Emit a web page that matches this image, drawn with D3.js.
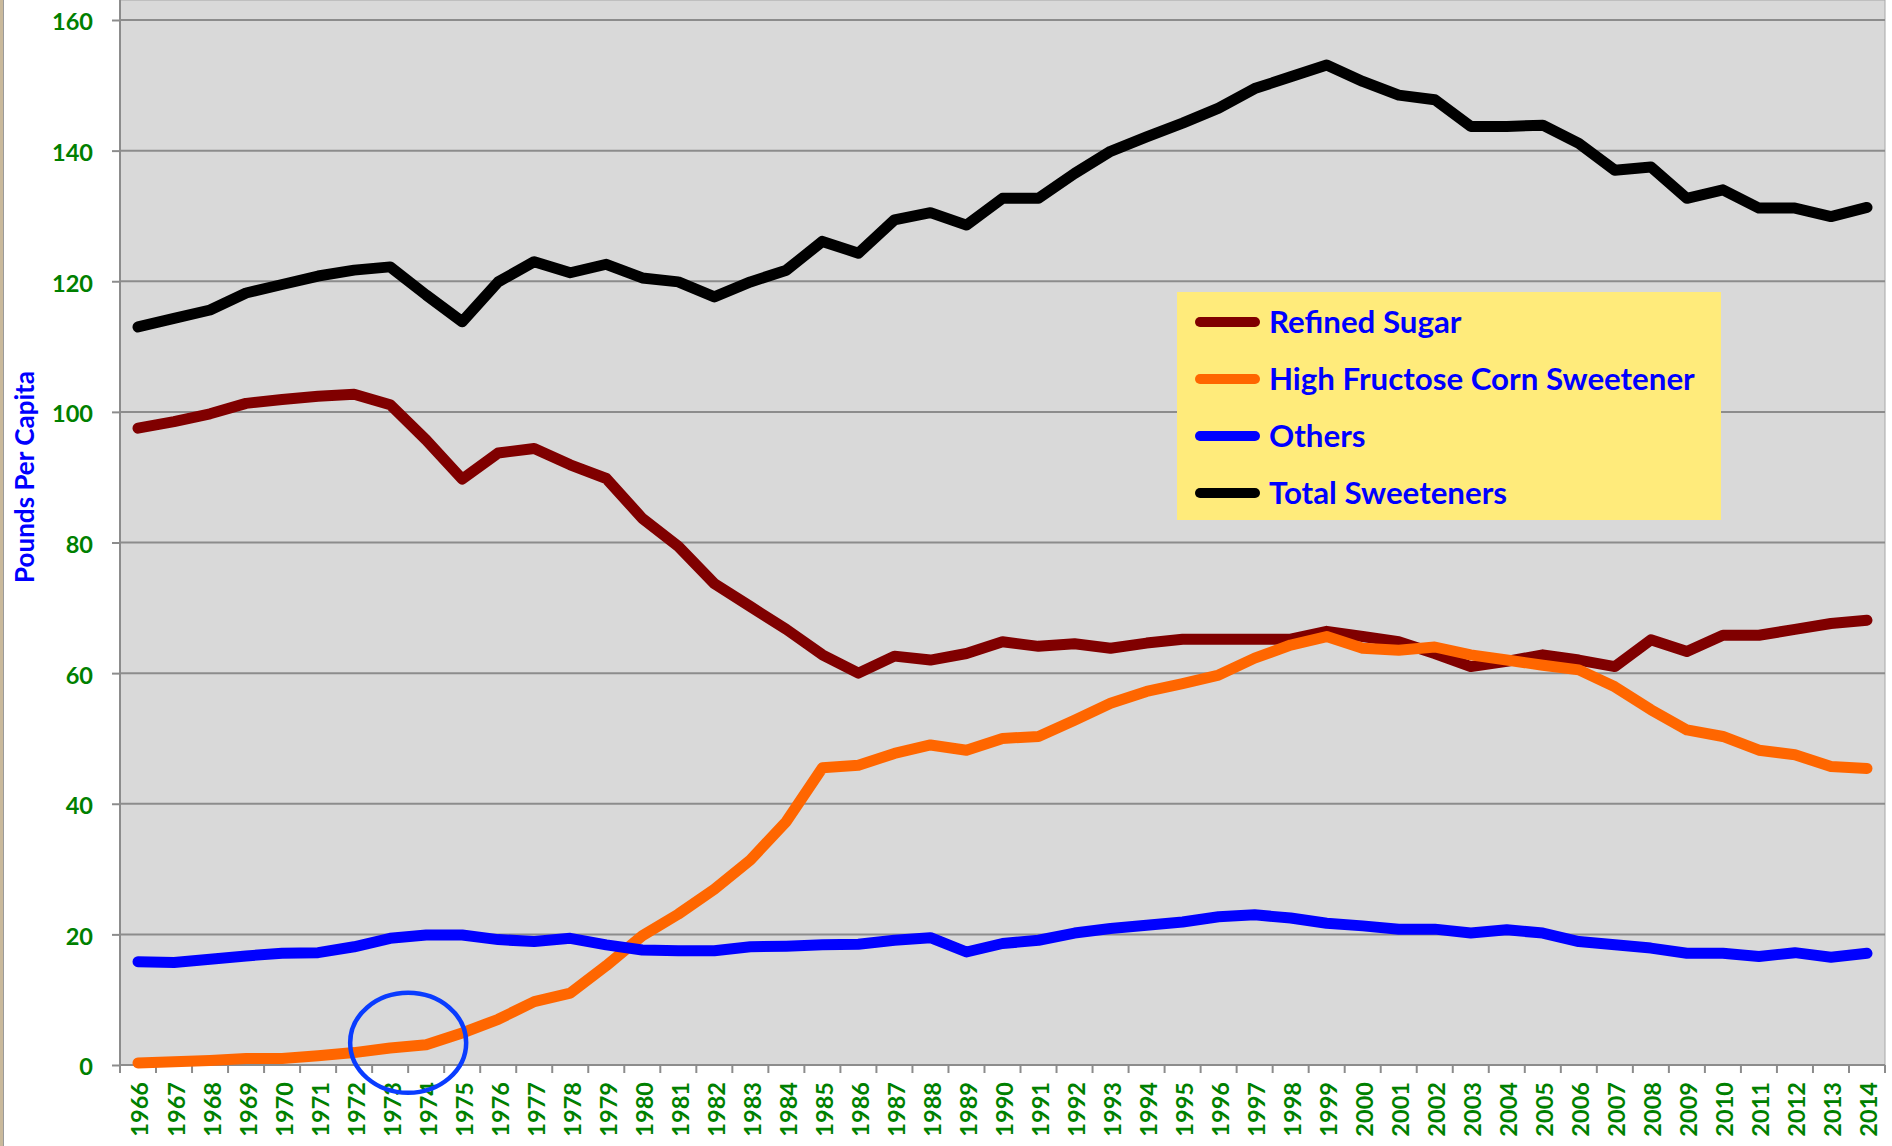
<!DOCTYPE html>
<html>
<head>
<meta charset="utf-8">
<script src="https://cdn.jsdelivr.net/npm/d3@7"></script>
<style>
  body { margin: 0; background: #fff; }
  svg { display: block; }
  text { font-family: Lato, "Open Sans", sans-serif; font-weight: bold; }
</style>
</head>
<body>
<div id="chart"></div>
<script>
const years = [1966, 1967, 1968, 1969, 1970, 1971, 1972, 1973, 1974, 1975,
               1976, 1977, 1978, 1979, 1980, 1981, 1982, 1983, 1984, 1985,
               1986, 1987, 1988, 1989, 1990, 1991, 1992, 1993, 1994, 1995,
               1996, 1997, 1998, 1999, 2000, 2001, 2002, 2003, 2004, 2005,
               2006, 2007, 2008, 2009, 2010, 2011, 2012, 2013, 2014]

const refinedSugar = [97.5, 98.5, 99.7, 101.3, 101.9, 102.4, 102.7, 101.1, 95.7, 89.7,
                      93.7, 94.4, 91.9, 89.8, 83.7, 79.4, 73.7, 70.2, 66.7, 62.8,
                      60.0, 62.6, 62.0, 63.0, 64.8, 64.1, 64.5, 63.8, 64.6, 65.2,
                      65.2, 65.2, 65.2, 66.4, 65.6, 64.8, 63.0, 61.0, 61.8, 62.8,
                      62.0, 61.0, 65.1, 63.3, 65.8, 65.8, 66.7, 67.6, 68.1]

const hfcs = [0.3, 0.5, 0.7, 1.0, 1.0, 1.4, 1.9, 2.6, 3.1, 4.9,
              7.0, 9.7, 11.0, 15.2, 19.8, 23.1, 26.9, 31.4, 37.3, 45.5,
              45.9, 47.7, 49.0, 48.2, 50.0, 50.3, 52.8, 55.4, 57.2, 58.4,
              59.7, 62.3, 64.3, 65.6, 63.8, 63.5, 64.0, 62.8, 62.0, 61.2,
              60.5, 57.9, 54.4, 51.3, 50.3, 48.2, 47.5, 45.7, 45.4]

const others = [15.8, 15.7, 16.2, 16.7, 17.1, 17.2, 18.1, 19.4, 19.9, 19.9,
                19.2, 18.9, 19.4, 18.4, 17.6, 17.5, 17.5, 18.1, 18.2, 18.4,
                18.5, 19.1, 19.5, 17.3, 18.6, 19.1, 20.2, 20.9, 21.4, 21.9,
                22.7, 23.0, 22.5, 21.7, 21.3, 20.8, 20.8, 20.2, 20.7, 20.2,
                18.9, 18.4, 17.9, 17.1, 17.1, 16.6, 17.2, 16.5, 17.1]

const total = [113.0, 114.3, 115.6, 118.2, 119.5, 120.8, 121.7, 122.2, 117.9, 113.8,
               119.9, 123.0, 121.3, 122.6, 120.5, 119.9, 117.6, 119.9, 121.7, 126.1,
               124.3, 129.4, 130.5, 128.6, 132.7, 132.7, 136.5, 139.9, 142.1, 144.2,
               146.5, 149.5, 151.3, 153.1, 150.6, 148.5, 147.8, 143.7, 143.7, 143.9,
               141.1, 137.0, 137.5, 132.7, 134.0, 131.2, 131.2, 129.9, 131.3]

const seriesNames = ["Refined Sugar", "High Fructose Corn Sweetener", "Others", "Total Sweeteners"]
const seriesColors = ["#800000", "#FF6600", "#0000FF", "#000000"]
const yTicks = [0, 20, 40, 60, 80, 100, 120, 140, 160]

const width = 1892
const height = 1146
const left = 120
const right = 1885
const bottom = 1065
const top160 = 20

const series = [refinedSugar, hfcs, others, total].map((vals, i) => ({
  name: seriesNames[i],
  color: seriesColors[i],
  values: vals.map((v, j) => ({ year: years[j], value: v }))
}))

// scale a text's font so that it spans the wanted width
function fitText(node, target) {
  const size = parseFloat(d3.select(node).attr("font-size"))
  return size * target / node.getComputedTextLength()
}

const svg = d3.select("#chart")
  .append("svg")
    .attr("width", width)
    .attr("height", height)

const xScale = d3.scaleBand()
  .domain(years)
  .range([left, right])
const yScale = d3.scaleLinear()
  .domain([0, 160])
  .range([bottom, top160])

const cx = d => xScale(d) + xScale.bandwidth() / 2

// left frame edge
svg.append("rect").attr("x", 0).attr("y", 0).attr("width", 3).attr("height", height).attr("fill", "#c9b99b")
svg.append("line").attr("x1", 3.5).attr("x2", 3.5).attr("y1", 0).attr("y2", height).attr("stroke", "#9a9a9a").attr("stroke-width", 1)

// plot area
svg.append("rect")
  .attr("x", left)
  .attr("y", 0)
  .attr("width", right - left)
  .attr("height", bottom)
  .attr("fill", "#d9d9d9")
  .attr("stroke", "#a6a6a6")
  .attr("stroke-width", 1)

// y axis + gridlines
const yAxis = d3.axisLeft(yScale).tickValues(yTicks).tickSize(8).tickPadding(19)
const yg = svg.append("g")
  .attr("transform", "translate(" + left + ",0)")
  .call(yAxis)
yg.select(".domain").remove()
yg.selectAll(".tick line").attr("stroke", "#8c8c8c").attr("stroke-width", 2)
const yLabels = yg.selectAll(".tick text")
  .attr("fill", "#008000")
  .attr("font-size", 24)
  .attr("dy", "0.42em")
const tickFont = fitText(yLabels.filter(d => d === 160).node(), 41)
yLabels.attr("font-size", tickFont)

svg.append("g")
  .selectAll("line")
  .data(yTicks).enter()
  .append("line")
    .attr("x1", left)
    .attr("x2", right)
    .attr("y1", d => yScale(d))
    .attr("y2", d => yScale(d))
    .attr("stroke", "#8c8c8c")
    .attr("stroke-width", 2)

svg.append("line")
  .attr("x1", left).attr("x2", left)
  .attr("y1", 0).attr("y2", bottom)
  .attr("stroke", "#8c8c8c")
  .attr("stroke-width", 2)

// x axis: ticks at band edges, labels rotated
svg.append("g")
  .selectAll("line")
  .data(years.concat(["end"])).enter()
  .append("line")
    .attr("x1", d => d === "end" ? right : xScale(d))
    .attr("x2", d => d === "end" ? right : xScale(d))
    .attr("y1", bottom)
    .attr("y2", bottom + 8)
    .attr("stroke", "#8c8c8c")
    .attr("stroke-width", 2)

svg.append("g")
  .selectAll("text")
  .data(years).enter()
  .append("text")
    .text(d => d)
    .attr("transform", d => "translate(" + (cx(d) + 2) + "," + (bottom + 17) + ")rotate(-90)")
    .attr("dy", "0.36em")
    .attr("text-anchor", "end")
    .attr("fill", "#008000")
    .attr("font-size", tickFont)

// y axis title
const yTitle = svg.append("text")
  .text("Pounds Per Capita")
  .attr("transform", "translate(34,477)rotate(-90)")
  .attr("text-anchor", "middle")
  .attr("fill", "#0000FF")
  .attr("font-size", 22)
yTitle.attr("font-size", fitText(yTitle.node(), 212))

// lines
const line = d3.line()
  .x(d => cx(d.year))
  .y(d => yScale(d.value))

svg.append("g")
  .selectAll("path")
  .data(series).enter()
  .append("path")
    .attr("d", d => line(d.values))
    .attr("fill", "none")
    .attr("stroke", d => d.color)
    .attr("stroke-width", 11)
    .attr("stroke-linejoin", "round")
    .attr("stroke-linecap", "round")

// legend
const legend = svg.append("g").attr("class", "legend")
legend.append("rect")
  .attr("x", 1177)
  .attr("y", 292)
  .attr("width", 544)
  .attr("height", 228)
  .attr("fill", "#ffeb7b")

const rows = legend.selectAll("g")
  .data(series).enter()
  .append("g")
    .attr("transform", (d, i) => "translate(1195," + (322 + i * 57) + ")")
rows.append("line")
  .attr("x1", 5).attr("x2", 60)
  .attr("stroke", d => d.color)
  .attr("stroke-width", 10)
  .attr("stroke-linecap", "round")
const legendText = rows.append("text")
  .text(d => d.name)
  .attr("x", 74)
  .attr("dy", "0.36em")
  .attr("fill", "#0000FF")
  .attr("font-size", 28)
legendText.attr("font-size", fitText(legendText.filter((d, i) => i === 1).node(), 426))

// annotation circle around the early HFCS values
svg.append("ellipse")
  .attr("cx", (cx(1973) + cx(1974)) / 2)
  .attr("cy", yScale(3.4))
  .attr("rx", 58)
  .attr("ry", 50)
  .attr("fill", "none")
  .attr("stroke", "#0a3cff")
  .attr("stroke-width", 4.5)
</script>
</body>
</html>
